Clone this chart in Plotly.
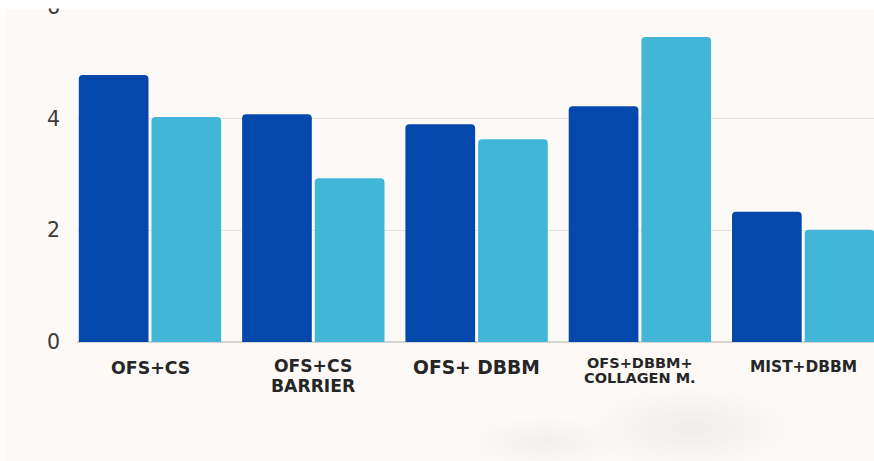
import plotly.graph_objects as go

# Category labels and the two measured series
groups = ["OFS+CS", "OFS+CS<br>BARRIER", "OFS+ DBBM", "OFS+DBBM+<br>COLLAGEN M.", "MIST+DBBM"]
series_dark = [4.78, 4.08, 3.90, 4.22, 2.33]
series_light = [4.03, 2.93, 3.63, 5.46, 2.01]
y_ticks = [0, 2, 4, 6]

DARK = "#0348aa"
LIGHT = "#41b6d6"
BG = "#fcf9f6"

W, H = 874, 461
M_L, M_R, M_T, M_B = 77, 0, 0, 119
PX_PER_UNIT = 55.85
PX_PER_CAT = 163.3

plot_w = W - M_L - M_R
plot_h = H - M_T - M_B
x_lo = -0.447
x_hi = x_lo + plot_w / PX_PER_CAT
y_hi = plot_h / PX_PER_UNIT


def px_x(px):
    """page pixel column -> paper x"""
    return (px - M_L) / plot_w


def px_y(py):
    """page pixel row -> paper y"""
    return (M_T + plot_h - py) / plot_h


xs = list(range(len(groups)))

fig = go.Figure()
fig.add_trace(go.Bar(x=xs, y=series_dark, marker_color=DARK, marker_line_width=0,
                     hoverinfo="skip"))
fig.add_trace(go.Bar(x=xs, y=series_light, marker_color=LIGHT, marker_line_width=0,
                     hoverinfo="skip"))

# category labels under each group: glyph size and line pitch per label
glyph_sizes = [17.4, 17.2, 18.7, 14.5, 15.4]
line_sizes = [17.4, 15.6, 18.7, 11.5, 15.4]
label_shift = [-14, -12, -13, -11, -14]
for i, (lab, gs, ls, sh) in enumerate(zip(groups, glyph_sizes, line_sizes, label_shift)):
    text = "<br>".join(f'<span style="font-size:{gs}px">{part}</span>' for part in lab.split("<br>"))
    fig.add_annotation(x=i, y=0, xref="x", yref="paper", yanchor="top", xanchor="center",
                       yshift=sh, text=text, showarrow=False,
                       font=dict(family="DejaVu Sans", size=ls, color="#262626", weight="bold"))

# off-white card behind the chart, leaving a thin white margin at top and left
fig.add_shape(type="rect", xref="paper", yref="paper", x0=px_x(5), x1=px_x(W + 5),
              y0=px_y(H + 5), y1=px_y(9), fillcolor=BG, line_width=0, layer="below")

# soft grey smudge near the bottom of the card (stacked faint ellipses)
for cx, cy, rx, ry, n, a in [(690, 428, 100, 40, 12, 0.006), (545, 442, 75, 24, 9, 0.006)]:
    for k in range(n):
        f = 1 - k / n
        fig.add_shape(type="circle", xref="paper", yref="paper",
                      x0=px_x(cx - rx * f), x1=px_x(cx + rx * f),
                      y0=px_y(cy + ry * f), y1=px_y(cy - ry * f),
                      fillcolor=f"rgba(120,110,100,{a})", line_width=0, layer="below")

# white strip along the top edge, drawn over the axis labels
fig.add_shape(type="rect", xref="paper", yref="paper", x0=px_x(-5), x1=px_x(W + 5),
              y0=px_y(8.5), y1=px_y(-5), fillcolor="white", line_width=0, layer="above")

fig.update_layout(
    width=W, height=H,
    margin=dict(l=M_L, r=M_R, t=M_T, b=M_B, pad=0, autoexpand=False),
    paper_bgcolor="white",
    plot_bgcolor="rgba(0,0,0,0)",
    barmode="group",
    bargap=0.11,
    bargroupgap=0.041,
    barcornerradius=4,
    showlegend=False,
    xaxis=dict(range=[x_lo, x_hi], showticklabels=False, showgrid=False,
               zeroline=False, showline=False, ticks="", automargin=False),
    yaxis=dict(range=[0, y_hi], tickvals=y_ticks, ticktext=[str(v) for v in y_ticks],
               showgrid=True, gridcolor="#e7e3df", gridwidth=1,
               zeroline=True, zerolinecolor="#d6d3d0", zerolinewidth=1.5,
               showline=False, ticks="", ticklabelstandoff=16,
               ticklabeloverflow="allow", automargin=False,
               tickfont=dict(family="DejaVu Sans", size=20.5, color="#3a3a3a")),
)

fig.write_html("out.html")
